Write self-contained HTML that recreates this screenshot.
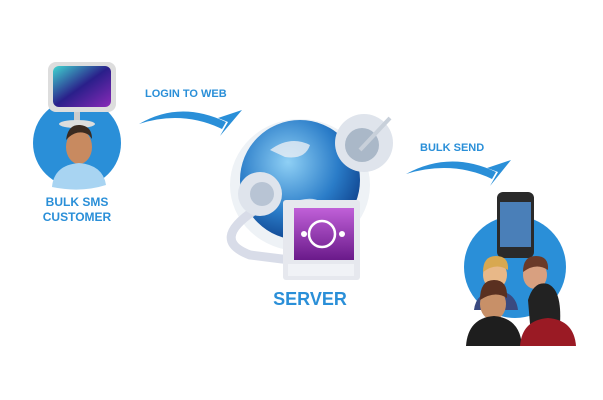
<!DOCTYPE html>
<html><head><meta charset="utf-8"><style>
body{margin:0;background:#fff;width:603px;height:400px;overflow:hidden}
svg{display:block}
text{font-family:"Liberation Sans",sans-serif;font-weight:bold;fill:#2a8fd8}
</style></head><body>
<svg width="603" height="400" viewBox="0 0 603 400">
<defs>
<radialGradient id="gl" cx="0.4" cy="0.35" r="0.7"><stop offset="0" stop-color="#8fd0f5"/><stop offset="0.6" stop-color="#2a7cc8"/><stop offset="1" stop-color="#0d3f8a"/></radialGradient>
<linearGradient id="scr" x1="0" y1="0" x2="1" y2="1"><stop offset="0" stop-color="#3fd6d0"/><stop offset="0.5" stop-color="#2a1f8a"/><stop offset="1" stop-color="#8a2ab8"/></linearGradient>
<linearGradient id="pur" x1="0" y1="0" x2="0" y2="1"><stop offset="0" stop-color="#c060d8"/><stop offset="1" stop-color="#6a1a8a"/></linearGradient>
</defs>
<!-- left -->
<circle cx="77" cy="143" r="44" fill="#2a8fd8"/>
<rect x="48" y="62" width="68" height="50" rx="8" fill="#ddd"/>
<rect x="53" y="66" width="58" height="41" rx="6" fill="url(#scr)"/>
<rect x="74" y="112" width="6" height="10" fill="#ccc"/>
<ellipse cx="77" cy="124" rx="18" ry="4" fill="#ddd"/>
<ellipse cx="79" cy="147" rx="13" ry="17" fill="#c88a60"/>
<path d="M66 140 q2 -16 14 -15 q12 1 12 14 l-3 -4 q-10 -6 -20 2z" fill="#3a2a20"/>
<path d="M52 187 q2 -22 27 -24 q24 2 27 22 q-25 8 -54 2z" fill="#a8d4f2"/>
<text x="77" y="206" font-size="12" text-anchor="middle">BULK SMS</text>
<text x="77" y="221" font-size="12" text-anchor="middle">CUSTOMER</text>
<!-- arrow 1 -->
<text x="145" y="97" font-size="11">LOGIN TO WEB</text>
<path d="M139 124 Q180 100 226 122 L222 129 Q182 110 139 124z" fill="#2a8fd8"/>
<path d="M242 110 L220 136 L228 122 L218 118z" fill="#2a8fd8"/>
<!-- server -->
<ellipse cx="300" cy="185" rx="70" ry="66" fill="#eef2f6"/>
<circle cx="300" cy="180" r="60" fill="url(#gl)"/>
<path d="M270 150 q20 -15 40 -5 q-5 15 -25 12z M300 200 q20 -5 30 10 q-10 15 -30 5z" fill="#e8eef4" opacity="0.8"/>
<path d="M255 210 q-45 30 -5 45 l40 5" fill="none" stroke="#d8dce8" stroke-width="9"/>
<circle cx="260" cy="194" r="22" fill="#dfe4ec"/>
<circle cx="262" cy="194" r="12" fill="#b8c4d4"/>
<circle cx="364" cy="143" r="29" fill="#dfe4ec"/>
<circle cx="362" cy="145" r="17" fill="#aab8c8"/>
<line x1="360" y1="150" x2="390" y2="118" stroke="#c8d0da" stroke-width="4"/>
<rect x="283" y="200" width="77" height="80" rx="3" fill="#e6e8ee"/>
<rect x="294" y="208" width="60" height="52" fill="url(#pur)"/>
<circle cx="322" cy="234" r="13" fill="none" stroke="#fff" stroke-width="2.5"/>
<circle cx="304" cy="234" r="3" fill="#fff"/><circle cx="342" cy="234" r="3" fill="#fff"/>
<rect x="288" y="264" width="66" height="12" fill="#f0f2f6"/>
<text x="310" y="305" font-size="18" text-anchor="middle">SERVER</text>
<!-- arrow 2 -->
<text x="420" y="151" font-size="11">BULK SEND</text>
<path d="M406 174 Q450 150 496 172 L492 179 Q452 160 406 174z" fill="#2a8fd8"/>
<path d="M511 160 L490 186 L498 172 L487 168z" fill="#2a8fd8"/>
<!-- right -->
<circle cx="515" cy="267" r="51" fill="#2a8fd8"/>
<rect x="497" y="192" width="37" height="66" rx="6" fill="#2a2a2a"/>
<rect x="500" y="202" width="31" height="45" fill="#4a7fb8"/>
<ellipse cx="495" cy="275" rx="12" ry="14" fill="#e8b888"/>
<path d="M483 272 q0 -16 13 -16 q13 0 12 14 q-12 -8 -25 2z" fill="#d8a850"/>
<ellipse cx="535" cy="275" rx="12" ry="14" fill="#d8a080"/>
<path d="M523 272 q0 -16 13 -16 q13 0 12 14 q-12 -8 -25 2z" fill="#6a3a28"/>
<path d="M474 310 q2 -18 22 -20 q20 2 22 20z" fill="#3a4a80"/>
<ellipse cx="493" cy="304" rx="13" ry="16" fill="#c89068"/>
<path d="M480 300 q0 -20 14 -20 q14 0 13 18 q-12 -8 -27 2z" fill="#5a3020"/>
<path d="M466 346 q2 -28 28 -30 q26 2 28 30z" fill="#1e1e1e"/>
<path d="M528 300 q6 -20 20 -16 q14 6 12 40 l-30 0z" fill="#222"/>
<path d="M520 346 q2 -26 28 -28 q26 2 28 28z" fill="#9a1a24"/>
</svg>
</body></html>
